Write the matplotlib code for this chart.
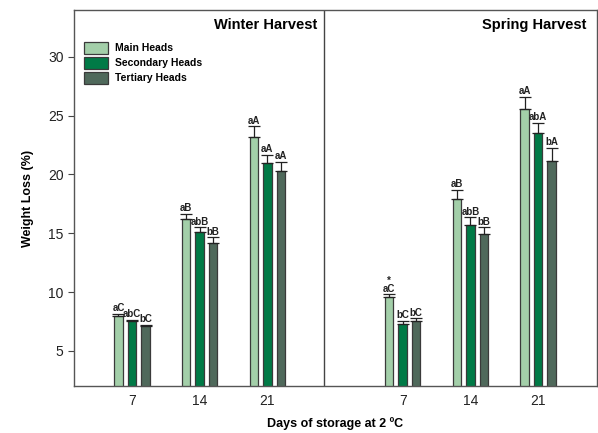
import matplotlib
matplotlib.use('agg')
import matplotlib.pyplot as plt
from matplotlib.patches import Patch
import numpy as np

plt.rcParams['font.family'] = ['Liberation Sans', 'DejaVu Sans']

days = ['7', '14', '21']
series = ['Main Heads', 'Secondary Heads', 'Tertiary Heads']
colors = ['#a3cfa9', '#007a46', '#4f695b']

# winter harvest: means and upper errors
winter_main = [8.0, 16.2, 23.2]
winter_main_err = [0.15, 0.45, 0.9]
winter_sec = [7.5, 15.1, 21.0]
winter_sec_err = [0.15, 0.4, 0.7]
winter_ter = [7.13, 14.2, 20.3]
winter_ter_err = [0.1, 0.45, 0.8]

# spring harvest
spring_main = [9.55, 17.9, 25.6]
spring_main_err = [0.25, 0.8, 1.0]
spring_sec = [7.3, 15.7, 23.5]
spring_sec_err = [0.25, 0.65, 0.9]
spring_ter = [7.53, 14.95, 21.15]
spring_ter_err = [0.22, 0.55, 1.1]

winter_letters = [['aC', 'aB', 'aA'], ['abC', 'abB', 'aA'], ['bC', 'bB', 'aA']]
spring_letters = [['*\naC', 'aB', 'aA'], ['bC', 'abB', 'abA'], ['bC', 'bB', 'bA']]

fig = plt.figure(figsize=(5.98, 4.33), dpi=100)
ax = fig.add_axes([0.1237, 0.1085, 0.8746, 0.8685])

edge = '#3a3a3a'
width = 0.125
offsets = [-0.2, 0.0, 0.2]
winter_x = np.array([1, 2, 3])
spring_x = np.array([5, 6, 7])

groups = [
    (winter_x, [winter_main, winter_sec, winter_ter],
     [winter_main_err, winter_sec_err, winter_ter_err], winter_letters),
    (spring_x, [spring_main, spring_sec, spring_ter],
     [spring_main_err, spring_sec_err, spring_ter_err], spring_letters),
]

for xs, vals, errs, letters in groups:
    for i in range(3):
        x = xs + offsets[i]
        ax.bar(x, vals[i], width=width, color=colors[i], edgecolor=edge,
               linewidth=0.9, zorder=2)
        ax.errorbar(x, vals[i], yerr=[np.zeros(3), errs[i]], fmt='none',
                    ecolor='#222222', elinewidth=0.9, capsize=4, capthick=0.9,
                    zorder=3)
        for j in range(3):
            ax.text(x[j], vals[i][j] + errs[i][j] + 0.05, letters[i][j],
                    ha='center', va='bottom', fontsize=7, fontweight='bold',
                    color='#222222', linespacing=0.75)

ax.axvline(3.84, color='#444444', linewidth=1.0)

ax.set_xlim(0.143, 7.87)
ax.set_ylim(2, 34)
ax.set_xticks(list(winter_x) + list(spring_x))
ax.set_xticklabels(days + days)
ax.set_yticks([5, 10, 15, 20, 25, 30])
ax.tick_params(axis='both', labelsize=10, direction='out', length=4,
               color='#444444', labelcolor='#222222')
ax.tick_params(axis='x', length=0, pad=6)

for s in ax.spines.values():
    s.set_color('#555555')
    s.set_linewidth(1.0)

ax.set_xlabel('Days of storage at 2 ºC', fontsize=9, fontweight='bold',
              labelpad=6)
ax.set_ylabel('Weight Loss (%)', fontsize=9, fontweight='bold', labelpad=10)

ax.text(3.73, 32.7, 'Winter Harvest', ha='right', va='center',
        fontsize=10.5, fontweight='bold')
ax.text(7.72, 32.7, 'Spring Harvest', ha='right', va='center',
        fontsize=10.5, fontweight='bold')

handles = [Patch(facecolor=c, edgecolor=edge, linewidth=0.9) for c in colors]
ax.legend(handles, series, loc='upper left', bbox_to_anchor=(0.0, 0.942),
          frameon=False, prop={'weight': 'bold', 'size': 7.5},
          handlelength=2.3, handleheight=1.3, labelspacing=0.35,
          handletextpad=0.6, borderaxespad=0.6)

plt.savefig('out.png', dpi=100)
